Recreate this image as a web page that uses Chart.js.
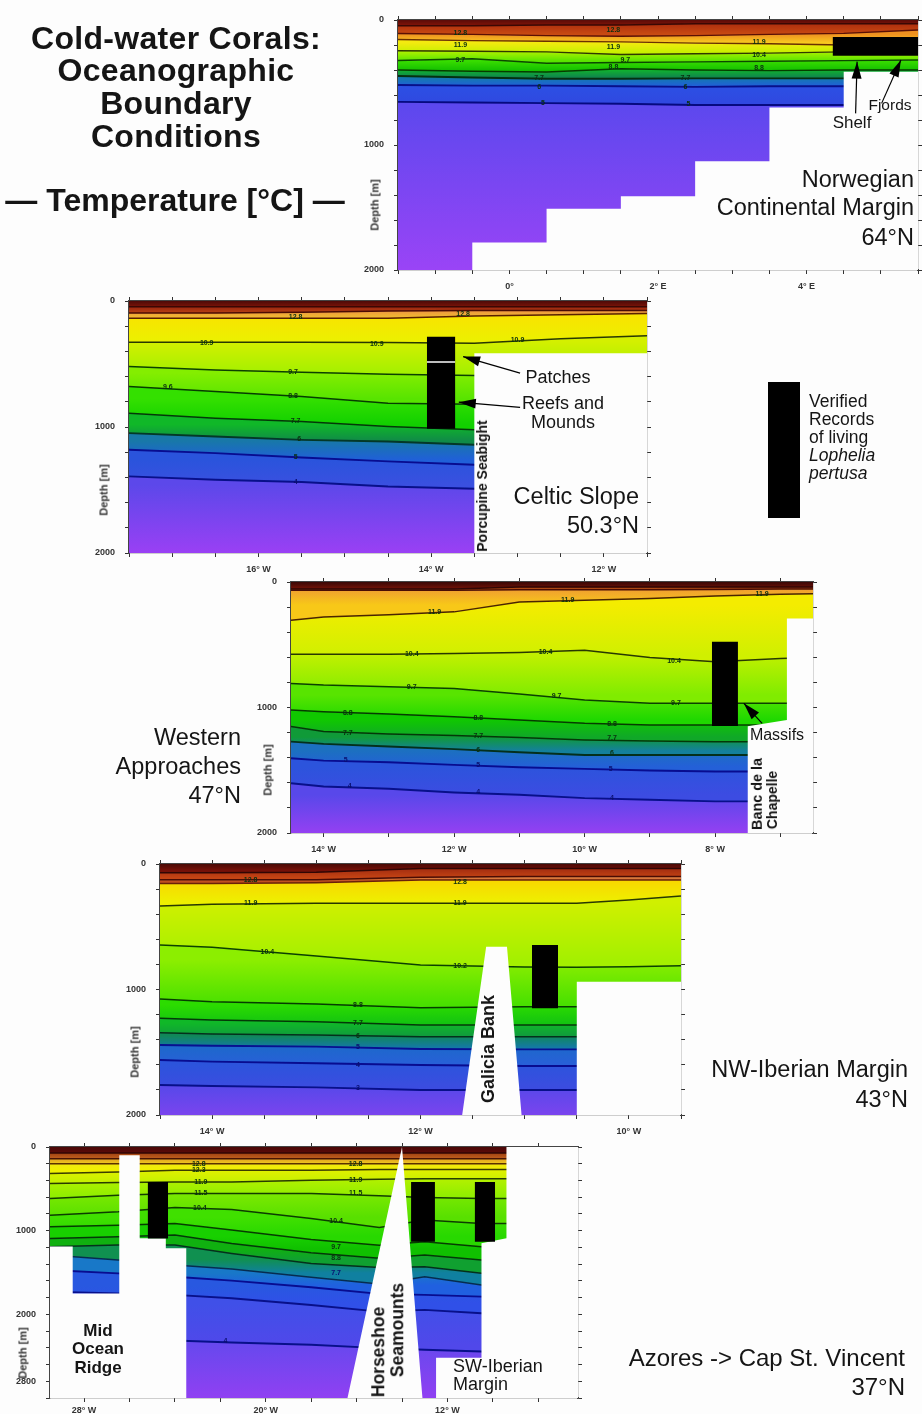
<!DOCTYPE html>
<html><head><meta charset="utf-8">
<script src="https://cdn.jsdelivr.net/npm/chart.js@4"></script>
<style>
html,body{margin:0;padding:0;background:#fdfdfd;width:922px;height:1414px;overflow:hidden}
canvas{position:absolute;filter:blur(.6px)}
.t{position:absolute;font-family:"Liberation Sans",Arial,sans-serif;color:#151515;white-space:nowrap;line-height:1;filter:blur(.35px)}
.b{font-weight:bold}
.c{transform:translate(-50%,-50%)}
.r{transform:translate(-100%,-50%)}
.l{transform:translate(0,-50%)}
.rot{transform:translate(-50%,-50%) rotate(-90deg)}
#leg{position:absolute;left:768px;top:382px;width:32px;height:136px;background:#000;filter:blur(.5px)}
</style></head><body>
<canvas id="c1"></canvas><canvas id="c2"></canvas><canvas id="c3"></canvas><canvas id="c4"></canvas><canvas id="c5"></canvas>
<div id="leg"></div>
<script>
/* ---------- Norwegian Continental Margin, 64N ---------- */
const p1Lons=[-1.5,-0.5,0.5,1.5,2.5,3.5,4.5,5.5];
const p1Contours=[
 [45,45,40,40,30,30,30,30],
 [107,115,125,130,125,115,107,80],
 [155,165,170,175,185,190,200,200],
 [245,250,255,275,270,265,255,245],
 [325,310,345,340,335,330,325,320],
 [400,410,415,390,400,405,400,400],
 [448,460,470,470,467,467,467,467],
 [520,525,525,530,535,530,530,530],
 [655,660,665,670,680,680,680,680]];
const p1BandTop=['#5a0c08','#b0300e','#ee9020','#f4ea10','#a8f000','#38dc00','#10b030','#1478b0','#2c50e4','#5c48ee'];
const p1BandEnd=['#7a1208','#c84a12','#f8c820','#c8f000','#58e400','#14c000','#108050','#2060d8','#3048e0','#9a44f6'];
const p1Lines=['#3a0804','#5a1004','#6a3000','#303800','#0c4800','#063c00','#053010','#08108a','#060a80'];
const p1Floor=[[-1.5,2000],[-0.5,2000],[-0.5,1780],[0.5,1780],[0.5,1510],[1.5,1510],[1.5,1410],[2.5,1410],[2.5,1130],[3.5,1130],[3.5,700],[4.5,700],[4.5,413],[5.5,413]];
const p1Bars=[[4.35,5.5,135,285]];
const p1Notes=[[-0.66,107,'12.8'],[-0.66,200,'11.9'],[-0.66,320,'9.7'],[1.4,80,'12.8'],[1.4,213,'11.9'],[1.56,320,'9.7'],[1.4,373,'8.8'],[3.36,173,'11.9'],[3.36,280,'10.4'],[3.36,387,'8.8'],[0.4,467,'7.7'],[0.4,533,'6'],[0.45,667,'5'],[2.37,467,'7.7'],[2.37,539,'6'],[2.41,672,'5']];
const p1Arrows=[[4.66,747,4.68,333],[5.01,667,5.27,320]];
const p1XTicks=[-1.5,-1,-0.5,0,0.5,1,1.5,2,2.5,3,3.5,4,4.5,5,5.5];
const p1XLabels={'0':'0°','2':'2° E','4':'4° E'};

/* ---------- Celtic Slope, 50.3N ---------- */
const p2Lons=[-17.5,-16.5,-15.5,-14.5,-13.5,-12.5,-11.5];
const p2Contours=[
 [45,45,45,45,45,45,45],
 [95,95,90,80,75,75,75],
 [137,137,137,137,120,110,100],
 [328,328,328,330,336,300,275],
 [520,547,565,581,592,595,600],
 [679,719,758,811,819,820,820],
 [890,930,956,996,1022,1030,1030],
 [1049,1075,1102,1115,1141,1150,1150],
 [1181,1207,1242,1273,1300,1310,1310],
 [1392,1419,1437,1472,1490,1500,1500]];
const p2BandTop=['#4e0a08','#9a2410','#ee9a40','#f8e400','#d4f000','#84ee00','#34e000','#10b828','#1878a8','#2a54dc','#5c48ea'];
const p2BandEnd=['#7a1408','#b03c12','#f0b830','#ecf000','#a4f000','#58e400','#12d000','#108a48','#2060d8','#3a50e0','#9a40f4'];
const p2Lines=['#3a0804','#4a0c04','#5a2000','#283800','#0c4000','#063c00','#043808','#043828','#080c90','#08108a'];
const p2Floor=[[-17.5,2000],[-13.5,2000],[-13.5,415],[-11.5,415]];
const p2Bars=[[-14.05,-13.72,283,1014]];
const p2Breaks=[[-14.05,-13.72,478,490]];
const p2Notes=[[-16.6,336,'10.9'],[-14.63,343,'10.9'],[-13,309,'10.9'],[-15.6,565,'9.7'],[-17.05,687,'9.6'],[-15.6,758,'8.8'],[-15.57,956,'7.7'],[-15.53,1097,'6'],[-15.57,1242,'5'],[-15.57,1437,'4'],[-15.57,124,'12.8'],[-13.63,106,'12.8']];
const p2Arrows=[[-12.97,573,-13.63,441],[-12.97,845,-13.68,803]];
const p2XTicks=[-17.5,-17,-16.5,-16,-15.5,-15,-14.5,-14,-13.5,-13,-12.5,-12,-11.5];
const p2XLabels={'-16':'16° W','-14':'14° W','-12':'12° W'};

/* ---------- Western Approaches, 47N ---------- */
const p3Lons=[-14.5,-14,-13,-12,-11,-10,-9,-8,-7,-6.5];
const p3Contours=[
 [55,55,55,55,40,40,40,40,40,40],
 [66,66,66,66,62,62,62,60,55,55],
 [305,278,260,238,159,146,132,111,98,93],
 [575,575,575,570,562,543,601,636,609,601],
 [808,821,834,848,893,940,967,967,967,967],
 [1020,1033,1052,1073,1099,1126,1139,1139,1139,1139],
 [1152,1192,1211,1224,1240,1258,1266,1272,1272,1272],
 [1272,1290,1311,1332,1356,1378,1378,1378,1378,1378],
 [1404,1423,1436,1457,1476,1489,1502,1510,1510,1510],
 [1603,1629,1648,1677,1695,1722,1735,1748,1748,1748]];
const p3BandTop=['#3a0806','#a03a10','#f0a030','#f4ec00','#c0f000','#58e400','#10c800','#109a38','#1c70c0','#2c54dc','#5848ea'];
const p3BandEnd=['#6a1006','#c06018','#f8c818','#d0f000','#80ec00','#20d800','#10a828','#14809c','#2460d8','#3c4ce2','#9440f2'];
const p3Lines=['#300604','#4a0c04','#4a2400','#283800','#0c4000','#063c00','#043808','#04301c','#080c90','#08108a'];
const p3Floor=[[-14.5,2000],[-7.5,2000],[-7.5,1150],[-6.9,1100],[-6.9,290],[-6.5,290]];
const p3Bars=[[-8.05,-7.65,477,1147]];
const p3Notes=[[-12.3,238,'11.9'],[-10.26,140,'11.9'],[-7.28,93,'11.9'],[-12.65,575,'10.4'],[-10.6,556,'10.4'],[-8.63,628,'10.4'],[-12.65,840,'9.7'],[-10.43,909,'9.7'],[-8.6,967,'9.7'],[-13.63,1046,'8.8'],[-11.63,1081,'8.8'],[-9.58,1131,'8.8'],[-13.63,1205,'7.7'],[-11.63,1224,'7.7'],[-9.58,1245,'7.7'],[-11.63,1338,'6'],[-9.58,1364,'6'],[-13.66,1417,'5'],[-11.63,1457,'5'],[-9.6,1489,'5'],[-13.6,1629,'4'],[-11.63,1677,'4'],[-9.58,1722,'4']];
const p3Arrows=[[-7.28,1126,-7.56,967]];
const p3XTicks=[-14,-13,-12,-11,-10,-9,-8,-7];
const p3XLabels={'-14':'14° W','-12':'12° W','-10':'10° W','-8':'8° W'};

/* ---------- NW-Iberian Margin, 43N ---------- */
const p4Lons=[-14.5,-14,-13,-12,-11,-10.5,-10,-9.5];
const p4Contours=[
 [70,70,65,35,35,35,35,35],
 [125,125,125,105,100,100,100,100],
 [155,155,150,128,128,128,128,128],
 [335,321,313,313,313,313,287,255],
 [645,664,733,805,821,823,818,810],
 [1076,1097,1115,1145,1137,1137,1137,1137],
 [1230,1243,1256,1283,1283,1283,1283,1283],
 [1344,1355,1362,1376,1376,1376,1376,1376],
 [1442,1448,1455,1474,1477,1477,1477,1477],
 [1562,1575,1588,1602,1610,1610,1610,1610],
 [1761,1769,1780,1801,1801,1801,1801,1801]];
const p4BandTop=['#4a0a06','#a83010','#e08040','#f8d800','#d0f000','#8cee00','#2cdc00','#10b828','#108858','#1e68cc','#2c54dc','#5a48ea'];
const p4BandEnd=['#741008','#c44414','#c05020','#eef000','#a4f000','#48e000','#14c410','#109c3c','#1478a8','#2860d8','#3c4ce0','#7a44ee'];
const p4Lines=['#300604','#4a0c04','#6a2008','#283800','#0c4000','#063c00','#043808','#04301c','#081090','#080c90','#08108a'];
const p4Floor=[[-14.5,2000],[-11.6,2000],[-11.37,660],[-11.17,660],[-11.03,2000],[-10.5,2000],[-10.5,938],[-9.5,938]];
const p4Bars=[[-10.93,-10.68,645,1150]];
const p4Notes=[[-13.63,313,'11.9'],[-11.62,313,'11.9'],[-13.47,699,'10.4'],[-11.62,813,'10.2'],[-12.6,1123,'8.8'],[-12.6,1270,'7.7'],[-12.6,1370,'6'],[-12.6,1460,'5'],[-12.6,1602,'4'],[-12.6,1787,'3'],[-13.63,127,'12.8'],[-11.62,141,'12.8']];
const p4XTicks=[-14.5,-14,-13.5,-13,-12.5,-12,-11.5,-11,-10.5,-10,-9.5];
const p4XLabels={'-14':'14° W','-12':'12° W','-10':'10° W'};

/* ---------- Azores -> Cap St. Vincent, 37N ---------- */
const p5Lons=[-29.5,-26.5,-24,-21.5,-18,-15,-13,-10.5,-6.25];
const p5Contours=[
 [72,72,72,72,72,72,72,72,72],
 [139,139,139,139,139,139,139,139,139],
 [199,199,199,199,199,199,199,199,199],
 [318,298,278,278,278,270,270,270,270],
 [437,425,417,417,397,385,378,378,378],
 [616,576,556,556,556,584,604,616,616],
 [815,775,723,747,854,962,874,914,914],
 [954,934,914,993,1105,1173,1133,1192,1192],
 [1093,1073,1053,1153,1264,1331,1292,1351,1351],
 [1192,1172,1172,1272,1391,1439,1431,1510,1510],
 [1292,1351,1411,1458,1558,1637,1550,1649,1649],
 [1470,1510,1550,1597,1677,1756,1768,1788,1788],
 [1729,1749,1768,1808,1888,1967,1947,1987,1987],
 [2305,2305,2313,2337,2364,2404,2424,2444,2444]];
const p5BandTop=['#4a0808','#a04010','#e0a020','#f0e810','#e0f000','#b0f000','#78e800','#40e000','#18d000','#10b010','#109050','#1878c8','#2858e0','#4050e8','#6848ee'];
const p5BandEnd=['#5a0a08','#c06020','#f0c820','#f0f000','#c8f000','#90ee00','#58e000','#28d800','#10c000','#10a030','#1080a0','#2060e0','#3050e8','#5048ea','#9040f2'];
const p5Lines=['#300604','#4a1404','#5a3000','#3a3c00','#283c00','#143c00','#0c3c00','#063c00','#043808','#04301c','#062c50','#080c90','#08108a','#08108a'];
const p5Floor=[[-29.5,1190],[-28.5,1190],[-28.5,1750],[-26.45,1750],[-26.45,100],[-25.55,100],[-25.55,1090],[-24.4,1090],[-24.4,1210],[-23.5,1210],[-23.5,3000],[-16.4,3000],[-14,0],[-13.1,3000],[-12.5,3000],[-12.5,2520],[-10.5,2520],[-10.5,1150],[-9.4,1090],[-9.4,0],[-6.25,0]];
const p5Bars=[[-25.2,-24.3,417,1093],[-13.6,-12.55,417,1133],[-10.8,-9.9,417,1133]];
const p5Notes=[[-22.95,199,'12.8'],[-22.95,278,'12.3'],[-22.86,417,'11.9'],[-22.86,556,'11.5'],[-22.9,735,'10.4'],[-16.04,199,'12.8'],[-16.04,397,'11.9'],[-16.04,556,'11.5'],[-16.9,882,'10.4'],[-16.9,1192,'9.7'],[-16.9,1331,'8.8'],[-16.9,1510,'7.7'],[-21.77,2325,'4']];
const p5XTicks=[-28,-26,-24,-22,-20,-18,-16,-14,-12,-10,-8];
const p5XLabels={'-28':'28° W','-20':'20° W','-12':'12° W'};
const p5YTicks=[0,200,400,600,800,1000,1200,1400,1600,1800,2000,2200,2400,2600,2800,3000];
const p5YLabels={'0':'0','1000':'1000','2000':'2000','2800':'2800'};

/* shared depth axis */
const depthTicks2000=[0,200,400,600,800,1000,1200,1400,1600,1800,2000];
const depthLabels2000={'0':'0','1000':'1000','2000':'2000'};

/* page text */
const titleLines=['Cold-water Corals:','Oceanographic','Boundary','Conditions'];
const legendLines=['Verified','Records','of living','Lophelia','pertusa'];

const PAD={l:45,r:6,t:16,b:30};
Chart.defaults.font.family='"Liberation Sans",Arial,sans-serif';

function axisBase(min,max,ticks,labels,reverse,size,prop,showLabels,pad){
  return {type:'linear',min,max,reverse,
    afterBuildTicks:a=>{a.ticks=ticks.map(v=>({value:v}));},
    afterFit:a=>{a[prop]=size;},
    border:{display:true,color:'#444',width:1.2},
    grid:{drawOnChartArea:false,drawTicks:true,tickLength:4,tickColor:'#333',tickWidth:1},
    ticks:{display:showLabels,autoSkip:false,maxRotation:0,minRotation:0,padding:pad||2,color:'#333',
      font:{size:9,weight:'bold'},callback:v=>labels[String(v)]||''}};
}
function pts(lons,vals){return lons.map((x,i)=>({x,y:vals[i]}));}

function makePanel(p){
  const w=p.right-p.left,h=p.bottom-p.top;
  const el=document.getElementById(p.id);
  el.width=w+PAD.l+PAD.r;el.height=h+PAD.t+PAD.b;
  el.style.left=(p.left-PAD.l)+'px';el.style.top=(p.top-PAD.t)+'px';
  const bounds=[p.lons.map(()=>0),...p.contours,p.lons.map(()=>p.maxDepth)];
  const ds=[];
  bounds.forEach((b,i)=>{
    const mean=b.reduce((s,v)=>s+v,0)/b.length;
    const next=bounds[i+1];
    const nextMean=next?next.reduce((s,v)=>s+v,0)/next.length:mean+1;
    ds.push({data:pts(p.lons,b),borderWidth:0,pointRadius:0,tension:0,order:100,
      fill:next?i+1:false,
      backgroundColor:ctx=>{
        const c=ctx.chart;
        if(!c.chartArea||!next)return '#000';
        const s=c.scales.y;
        const g=c.ctx.createLinearGradient(0,s.getPixelForValue(mean),0,s.getPixelForValue(nextMean));
        g.addColorStop(0,p.bandTop[i]);g.addColorStop(1,p.bandEnd[i]);
        return g;
      }});
  });
  p.contours.forEach((c,i)=>{
    ds.push({data:pts(p.lons,c),borderColor:p.lines[i],borderWidth:i>p.contours.length-4?1.9:1.5,pointRadius:0,tension:0,fill:false,order:50});
  });
  ds.push({data:p.floor.map(a=>({x:a[0],y:a[1]})),borderWidth:0,pointRadius:0,tension:0,order:20,
    backgroundColor:'#fdfdfd',fill:{target:{value:p.maxDepth}}});
  p.bars.forEach(b=>{
    ds.push({data:[{x:b[0],y:b[2]},{x:b[1],y:b[2]}],borderWidth:0,pointRadius:0,tension:0,order:10,
      backgroundColor:'#000',fill:{target:{value:b[3]}}});
  });
  (p.breaks||[]).forEach(b=>{
    ds.push({data:[{x:b[0],y:b[2]},{x:b[1],y:b[2]}],borderWidth:0,pointRadius:0,tension:0,order:5,
      backgroundColor:'#fdfdfd',fill:{target:{value:b[3]}}});
  });
  const notes={id:'notes',afterDatasetsDraw(c){
    const g=c.ctx,x=c.scales.x,y=c.scales.y;
    g.save();
    g.beginPath();g.rect(c.chartArea.left,c.chartArea.top,c.chartArea.width,c.chartArea.height);g.clip();
    g.font='bold 7px "Liberation Sans",Arial,sans-serif';g.textAlign='center';g.textBaseline='middle';
    p.notes.forEach(n=>{
      g.fillStyle=n[1]>1380?'#0a1070':'#0a3010';
      g.fillText(n[2],x.getPixelForValue(n[0]),y.getPixelForValue(n[1]));
    });
    (p.arrows||[]).forEach(a=>{
      const x0=x.getPixelForValue(a[0]),y0=y.getPixelForValue(a[1]),x1=x.getPixelForValue(a[2]),y1=y.getPixelForValue(a[3]);
      const t=Math.atan2(y1-y0,x1-x0),L=17,W=5;
      g.strokeStyle='#000';g.fillStyle='#000';g.lineWidth=1.2;
      g.beginPath();g.moveTo(x0,y0);g.lineTo(x1,y1);g.stroke();
      g.beginPath();g.moveTo(x1,y1);
      g.lineTo(x1-L*Math.cos(t)+W*Math.sin(t),y1-L*Math.sin(t)-W*Math.cos(t));
      g.lineTo(x1-L*Math.cos(t)-W*Math.sin(t),y1-L*Math.sin(t)+W*Math.cos(t));
      g.closePath();g.fill();
    });
    g.restore();
  }};
  const yT=p.yTicks||depthTicks2000,yL=p.yLabels||depthLabels2000;
  new Chart(el,{type:'line',data:{datasets:ds},plugins:[notes],options:{
    responsive:false,animation:false,
    layout:{padding:0,autoPadding:false},
    plugins:{legend:{display:false},tooltip:{enabled:false},title:{display:false}},
    scales:{
      x:axisBase(p.xMin,p.xMax,p.xTicks,p.xLabels,false,PAD.b,'height',true,p.xPad||7),
      x2:Object.assign(axisBase(p.xMin,p.xMax,p.xTicks,{},false,PAD.t,'height',false),{position:'top'}),
      y:axisBase(0,p.maxDepth,yT,yL,true,PAD.l,'width',true,10),
      y2:Object.assign(axisBase(0,p.maxDepth,yT,{},true,PAD.r,'width',false),{position:'right'})
    }}});
}
makePanel({id:'c1',left:398,right:919,top:20,bottom:270,maxDepth:2000,xMin:-1.5,xMax:5.5,lons:p1Lons,contours:p1Contours,bandTop:p1BandTop,bandEnd:p1BandEnd,lines:p1Lines,floor:p1Floor,bars:p1Bars,notes:p1Notes,arrows:p1Arrows,xTicks:p1XTicks,xLabels:p1XLabels});
makePanel({id:'c2',left:129,right:648,top:301,bottom:553,maxDepth:2000,xMin:-17.5,xMax:-11.5,lons:p2Lons,contours:p2Contours,bandTop:p2BandTop,bandEnd:p2BandEnd,lines:p2Lines,floor:p2Floor,bars:p2Bars,breaks:p2Breaks,notes:p2Notes,arrows:p2Arrows,xTicks:p2XTicks,xLabels:p2XLabels});
makePanel({id:'c3',left:291,right:813,top:582,bottom:833,maxDepth:2000,xMin:-14.5,xMax:-6.5,lons:p3Lons,contours:p3Contours,bandTop:p3BandTop,bandEnd:p3BandEnd,lines:p3Lines,floor:p3Floor,bars:p3Bars,notes:p3Notes,arrows:p3Arrows,xTicks:p3XTicks,xLabels:p3XLabels});
makePanel({id:'c4',left:160,right:682,top:864,bottom:1115,maxDepth:2000,xMin:-14.5,xMax:-9.5,lons:p4Lons,contours:p4Contours,bandTop:p4BandTop,bandEnd:p4BandEnd,lines:p4Lines,floor:p4Floor,bars:p4Bars,notes:p4Notes,xTicks:p4XTicks,xLabels:p4XLabels});
makePanel({id:'c5',left:50,right:578,top:1147,bottom:1398,maxDepth:3000,xMin:-29.5,xMax:-6.25,lons:p5Lons,contours:p5Contours,bandTop:p5BandTop,bandEnd:p5BandEnd,lines:p5Lines,floor:p5Floor,bars:p5Bars,notes:p5Notes,xTicks:p5XTicks,xLabels:p5XLabels,yTicks:p5YTicks,yLabels:p5YLabels,xPad:3});

function put(text,x,y,size,cls,extra){
  const d=document.createElement('div');
  d.className='t '+cls;d.textContent=text;
  d.style.left=x+'px';d.style.top=y+'px';d.style.fontSize=size+'px';
  if(extra)d.style.cssText+=extra;
  document.body.appendChild(d);
}
titleLines.forEach((s,i)=>put(s,176,[38,70,103,136][i],32,'b c','letter-spacing:.3px'));
put('— Temperature [°C] —',175,200,32,'b c');
[['Norwegian',180],['Continental Margin',208],['64°N',238]].forEach(a=>put(a[0],914,a[1],23.5,'r'));
[['Celtic Slope',497],['50.3°N',526]].forEach(a=>put(a[0],639,a[1],23.5,'r'));
[['Western',738],['Approaches',767],['47°N',796]].forEach(a=>put(a[0],241,a[1],23.5,'r'));
[['NW-Iberian Margin',1070],['43°N',1100]].forEach(a=>put(a[0],908,a[1],23.5,'r'));
[['Azores -> Cap St. Vincent',1358],['37°N',1387]].forEach(a=>put(a[0],905,a[1],24,'r'));
[[375,205],[104,490],[268,770],[135,1052],[23,1353]].forEach(a=>put('Depth [m]',a[0],a[1],11,'b rot','color:#333'));
put('Shelf',852,122,17,'c');
put('Fjords',890,105,15.5,'c');
put('Patches',558,377,18,'c');
put('Reefs and',563,403,18,'c');
put('Mounds',563,422,18,'c');
put('Massifs',777,735,16,'c');
put('Porcupine Seabight',482,486,14,'b rot');
put('Banc de la',757,794,14.4,'b rot');
put('Chapelle',772,800,14,'b rot');
put('Galicia Bank',488,1049,18,'b rot');
put('Mid',98,1330,17,'b c');
put('Ocean',98,1348,17,'b c');
put('Ridge',98,1367,17,'b c');
put('Horseshoe',379,1352,17.5,'b rot');
put('Seamounts',398,1330,17.5,'b rot');
put('SW-Iberian',453,1366,18,'l');
put('Margin',453,1384,18,'l');
legendLines.forEach((s,i)=>put(s,809,402+i*17.9,17.5,'l',i>2?'font-style:italic':''));
</script></body></html>
